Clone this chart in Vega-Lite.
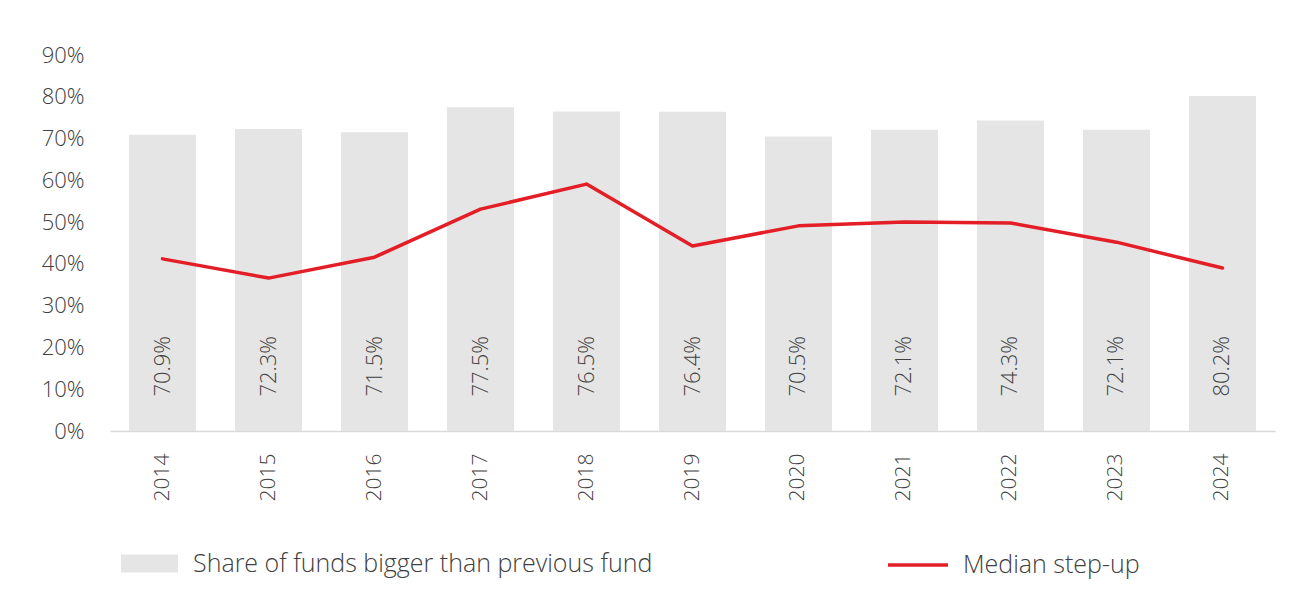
{
  "$schema": "https://vega.github.io/schema/vega-lite/v6.json",
  "width": 1165,
  "height": 376,
  "autosize": {"type": "none"},
  "padding": {"left": 110, "top": 55, "right": 37, "bottom": 176},
  "background": "white",
  "config": {
    "view": {"stroke": null},
    "font": "Open Sans",
    "axis": {"labelFont": "Open Sans", "labelColor": "#404040", "labelFontSize": 22, "labelFontWeight": 300, "title": null},
    "legend": {"labelFont": "Open Sans", "labelColor": "#404040", "labelFontSize": 25, "labelFontWeight": 300, "labelLimit": 800}
  },
  "data": {
    "values": [
      {"year": "2014", "share": 0.709, "median": 0.412},
      {"year": "2015", "share": 0.723, "median": 0.366},
      {"year": "2016", "share": 0.715, "median": 0.416},
      {"year": "2017", "share": 0.775, "median": 0.531},
      {"year": "2018", "share": 0.765, "median": 0.591},
      {"year": "2019", "share": 0.764, "median": 0.443},
      {"year": "2020", "share": 0.705, "median": 0.491},
      {"year": "2021", "share": 0.721, "median": 0.500},
      {"year": "2022", "share": 0.743, "median": 0.498},
      {"year": "2023", "share": 0.721, "median": 0.452},
      {"year": "2024", "share": 0.802, "median": 0.390}
    ]
  },
  "encoding": {
    "x": {
      "field": "year", "type": "ordinal",
      "scale": {"paddingInner": 0.367, "paddingOuter": 0.179},
      "axis": {"labelAngle": -90, "labelPadding": 22, "labelFontSize": 21, "ticks": false, "domainColor": "#d9d9d9", "domainWidth": 1.5, "grid": false}
    }
  },
  "layer": [
    {
      "mark": {"type": "bar"},
      "encoding": {
        "y": {
          "field": "share", "type": "quantitative",
          "scale": {"domain": [0, 0.9], "nice": false},
          "axis": {"format": ".0%", "values": [0, 0.1, 0.2, 0.3, 0.4, 0.5, 0.6, 0.7, 0.8, 0.9], "domain": false, "ticks": false, "grid": false, "labelPadding": 26}
        },
        "fill": {
          "datum": "Share of funds bigger than previous fund",
          "scale": {"range": ["#e5e5e5"]},
          "legend": {
            "title": null, "orient": "none", "legendX": 11, "legendY": 480,
            "symbolType": "M-1,-0.316H1V0.316H-1Z", "symbolSize": 3249, "symbolStrokeWidth": 0,
            "labelOffset": 15
          }
        }
      }
    },
    {
      "mark": {"type": "text", "angle": 270, "align": "center", "baseline": "middle", "fontSize": 22, "fontWeight": 300, "color": "#404040", "font": "Open Sans"},
      "encoding": {
        "y": {"datum": 0.155, "type": "quantitative"},
        "text": {"field": "share", "type": "quantitative", "format": ".1%"}
      }
    },
    {
      "mark": {"type": "line", "strokeWidth": 3.5, "strokeJoin": "round", "strokeCap": "round"},
      "encoding": {
        "y": {"field": "median", "type": "quantitative"},
        "stroke": {
          "datum": "Median step-up",
          "scale": {"range": ["#e41e26"]},
          "legend": {
            "title": null, "orient": "none", "legendX": 776, "legendY": 478,
            "symbolType": "stroke", "symbolSize": 3600, "symbolStrokeWidth": 3.5,
            "labelOffset": 13
          }
        }
      }
    }
  ]
}
